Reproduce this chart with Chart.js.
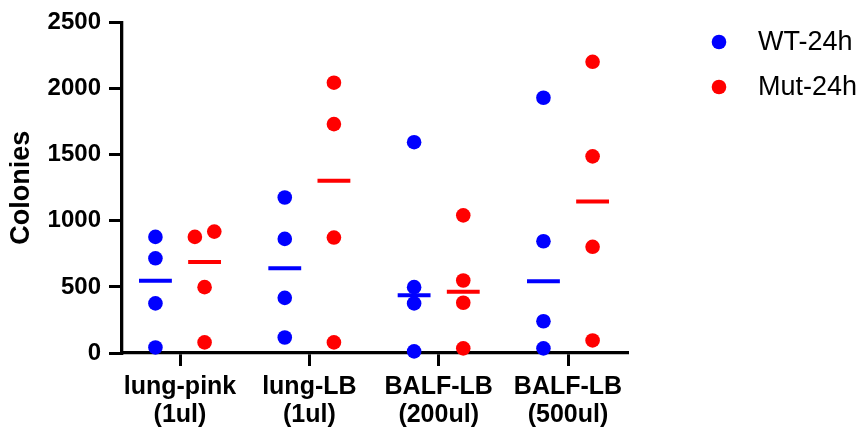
<!DOCTYPE html>
<html>
<head>
<meta charset="utf-8">
<title>Colonies</title>
<script src="https://cdn.jsdelivr.net/npm/chart.js@4/dist/chart.umd.min.js"></script>
<style>
  html, body { margin: 0; padding: 0; background: #fff; }
  canvas { display: block; }
</style>
</head>
<body>
<canvas id="colonies-chart" width="857" height="429"></canvas>
<script>
// Sample groups (x categories), two lines each
const groups = [
    ['lung-pink', '(1ul)'],
    ['lung-LB', '(1ul)'],
    ['BALF-LB', '(200ul)'],
    ['BALF-LB', '(500ul)']
];

const seriesNames = ['WT-24h', 'Mut-24h'];

// Colony counts per group, four replicates each
const wt24h = [
    [878, 716, 375, 42],
    [1176, 863, 417, 117],
    [1594, 498, 375, 12],
    [1930, 845, 240, 35]
];
const mut24h = [
    [918, 878, 498, 80],
    [2044, 1731, 873, 80],
    [1041, 548, 380, 35],
    [2202, 1487, 803, 95]
];

const yTicks = [0, 500, 1000, 1500, 2000, 2500];

const FONT = "'Liberation Sans', Arial, sans-serif";
const BLUE = '#0000ff';
const RED = '#ff0000';
const SERIES_OFFSET = 0.19;   // horizontal shift of each series from the group centre
const MEDIAN_HALF = 0.127;    // half length of the median bar
const SPREAD = 0.075;         // sideways nudge for replicates that would overlap

function median(values) {
    const s = [...values].sort((a, b) => a - b);
    const mid = Math.floor(s.length / 2);
    return s.length % 2 ? s[mid] : (s[mid - 1] + s[mid]) / 2;
}

// Points for one series; near-identical values are pushed apart so both stay visible
function scatterPoints(table, offset) {
    const points = [];
    table.forEach((values, g) => {
        const cx = g + 1 + offset;
        values.forEach((v, i) => {
            let dx = 0;
            values.forEach((w, j) => {
                if (j !== i && Math.abs(w - v) < 100) {
                    dx = v < w || (v === w && i < j) ? -SPREAD : SPREAD;
                }
            });
            points.push({ x: cx + dx, y: v });
        });
    });
    return points;
}

function medianBars(table, offset) {
    const points = [];
    table.forEach((values, g) => {
        const cx = g + 1 + offset;
        const m = median(values);
        points.push({ x: cx - MEDIAN_HALF, y: m });
        points.push({ x: cx + MEDIAN_HALF, y: m });
        points.push({ x: cx, y: null });
    });
    return points;
}

function dotDataset(label, table, offset, color) {
    return {
        label: label,
        data: scatterPoints(table, offset),
        backgroundColor: color,
        borderWidth: 0,
        pointRadius: 7.3,
        pointHoverRadius: 7.3,
        clip: false
    };
}

function barDataset(table, offset, color) {
    return {
        label: '',
        data: medianBars(table, offset),
        showLine: true,
        spanGaps: false,
        borderColor: color,
        borderWidth: 4,
        borderCapStyle: 'butt',
        pointRadius: 0,
        clip: false,
        isMedian: true
    };
}

// Legend on the right: dot then label, drawn by hand for the wide gap
const sideLegend = {
    id: 'sideLegend',
    afterDraw(chart) {
        const ctx = chart.ctx;
        const area = chart.chartArea;
        const items = chart.data.datasets.filter(d => !d.isMedian);
        ctx.save();
        items.forEach((d, i) => {
            const y = 42 + i * 45;
            ctx.fillStyle = d.backgroundColor;
            ctx.beginPath();
            ctx.arc(area.right + 92, y, 7.3, 0, Math.PI * 2);
            ctx.fill();
            ctx.fillStyle = '#000';
            ctx.font = '27px ' + FONT;
            ctx.textAlign = 'left';
            ctx.textBaseline = 'middle';
            ctx.fillText(d.label, area.right + 131, y + 1);
        });
        ctx.restore();
    }
};

const ctx = document.getElementById('colonies-chart').getContext('2d');

new Chart(ctx, {
    type: 'scatter',
    data: {
        datasets: [
            dotDataset(seriesNames[0], wt24h, -SERIES_OFFSET, BLUE),
            dotDataset(seriesNames[1], mut24h, SERIES_OFFSET, RED),
            barDataset(wt24h, -SERIES_OFFSET, BLUE),
            barDataset(mut24h, SERIES_OFFSET, RED)
        ]
    },
    options: {
        responsive: false,
        animation: false,
        devicePixelRatio: 1,
        events: [],
        layout: {
            padding: { left: 0, right: 230, top: 19, bottom: 0 }
        },
        plugins: {
            legend: { display: false },
            tooltip: { enabled: false }
        },
        scales: {
            x: {
                type: 'linear',
                min: 0.5515,
                max: 4.456,
                afterBuildTicks: scale => {
                    scale.ticks = groups.map((_, i) => ({ value: i + 1 }));
                },
                afterFit: scale => { scale.height = 76; },
                grid: {
                    drawOnChartArea: false,
                    color: '#000',
                    lineWidth: 3,
                    tickLength: 13
                },
                border: { color: '#000', width: 3.3 },
                ticks: {
                    color: '#000',
                    padding: 7,
                    maxRotation: 0,
                    autoSkip: false,
                    font: { family: FONT, size: 25, weight: 'bold', lineHeight: 1.12 },
                    callback: value => groups[value - 1]
                }
            },
            y: {
                min: 0,
                max: 2500,
                afterBuildTicks: scale => {
                    scale.ticks = yTicks.map(v => ({ value: v }));
                },
                afterFit: scale => { scale.width = 122; },
                grid: {
                    drawOnChartArea: false,
                    color: '#000',
                    lineWidth: 3,
                    tickLength: 13
                },
                border: { color: '#000', width: 3.3 },
                ticks: {
                    color: '#000',
                    padding: 8,
                    font: { family: FONT, size: 24, weight: 'bold' },
                    callback: value => String(value)
                },
                title: {
                    display: true,
                    text: 'Colonies',
                    color: '#000',
                    padding: { top: 5, bottom: 0 },
                    font: { family: FONT, size: 27, weight: 'bold' }
                }
            }
        }
    },
    plugins: [sideLegend]
});
</script>
</body>
</html>
